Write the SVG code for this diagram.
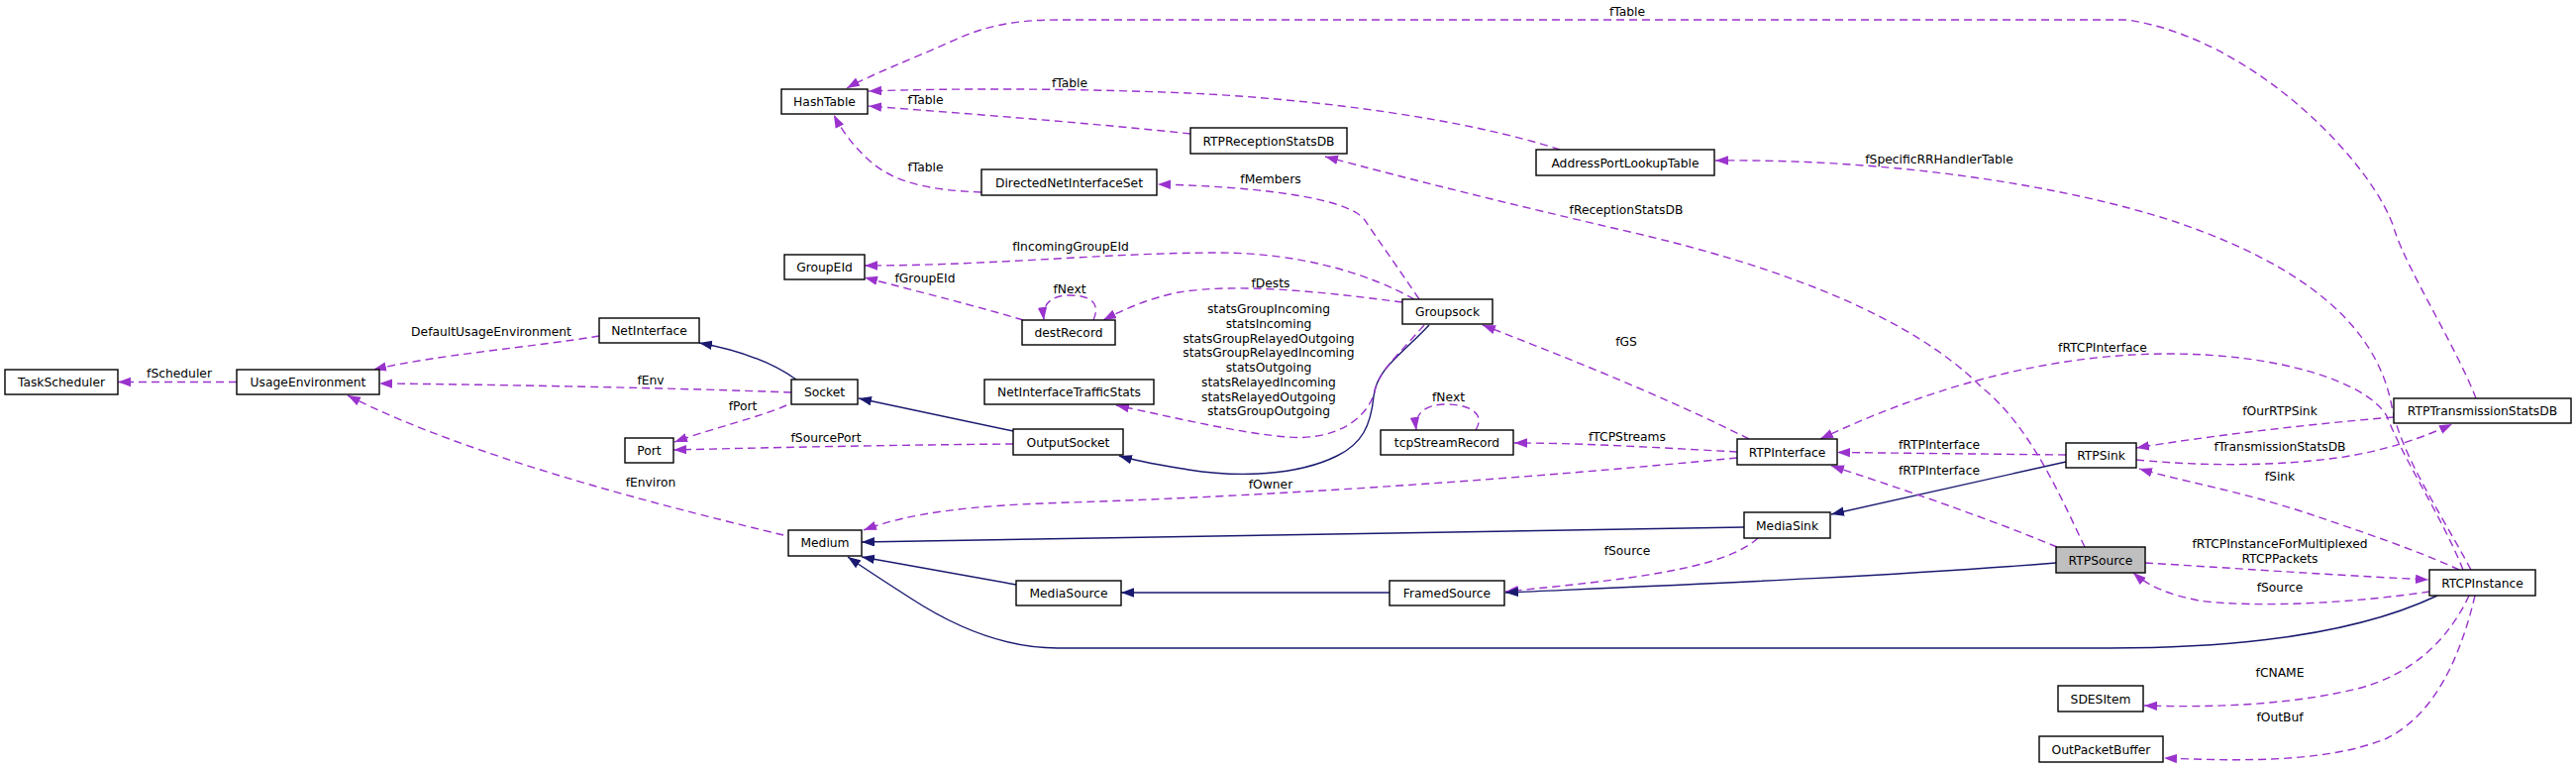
<svg xmlns="http://www.w3.org/2000/svg" width="2601" height="775" viewBox="0 0 2601 775">
<defs>
<style>
.n rect{fill:#fff;stroke:#000;stroke-width:1.4}
.n text,.l{font-family:"DejaVu Sans",sans-serif;font-size:12.3px;fill:#000;text-anchor:middle}
.hl rect{fill:#bfbfbf}
.d{fill:none;stroke:#9a32cd;stroke-width:1.4;stroke-dasharray:8,5;marker-end:url(#ap)}
.s{fill:none;stroke:#191970;stroke-width:1.4;marker-end:url(#ab)}
</style>
<marker id="ap" markerUnits="userSpaceOnUse" markerWidth="14" markerHeight="10" refX="13" refY="4.7" orient="auto"><path d="M0,0 L13,4.7 L0,9.4 z" fill="#9a32cd"/></marker>
<marker id="ab" markerUnits="userSpaceOnUse" markerWidth="14" markerHeight="10" refX="13" refY="4.7" orient="auto"><path d="M0,0 L13,4.7 L0,9.4 z" fill="#191970"/></marker>
</defs>
<rect width="2601" height="775" fill="#fff"/>
<g id="edges">
<path class="d" d="M239,385.5 L119,385.5"/>
<path class="d" d="M605,339 C540,350 440,358 377,373"/>
<path class="s" d="M804,383 C780,366 750,354 706,346"/>
<path class="d" d="M799,396 C700,392 500,388 383,387"/>
<path class="d" d="M794,409 C770,420 720,432 681,446"/>
<path class="d" d="M1023,448 C900,449 760,452 680,454"/>
<path class="d" d="M791,540 C700,518 480,465 351,399"/>
<path class="s" d="M1023,435 L867,402"/>
<path class="s" d="M1443,328 C1415,358 1390,372 1387,400 C1384,430 1375,448 1350,460 C1310,480 1250,482 1200,474 C1170,469 1150,466 1130,460"/>
<path class="d" d="M1438,328 C1410,360 1392,375 1388,395 C1380,425 1345,445 1300,441 C1250,437 1180,420 1127,409"/>
<path class="d" d="M1433,302 C1410,268 1390,240 1378,222 C1360,198 1260,188 1169,186"/>
<path class="d" d="M1428,302 C1380,275 1310,255 1230,255 C1120,255 1000,268 873,268"/>
<path class="d" d="M1416,305 C1340,295 1250,285 1190,295 C1160,301 1135,312 1114,323"/>
<path class="d" d="M1104,323 C1112,305 1100,298 1080,298 C1062,298 1052,306 1054,323"/>
<path class="d" d="M1033,323 C990,310 930,295 873,280"/>
<path class="d" d="M991,194 C940,192 905,185 880,164 C862,148 850,132 842,116"/>
<path class="d" d="M1202,135 C1100,124 980,115 877,107"/>
<path class="d" d="M1575,151 C1480,120 1330,100 1200,94 C1080,89 960,89 877,92"/>
<path class="d" d="M2500,402 C2480,350 2432,275 2418,233 C2400,170 2280,40 2148,20 L1068,20 C1020,20 990,28 960,42 C920,60 880,75 855,89"/>
<path class="d" d="M2495,575 C2460,510 2425,460 2415,410 C2400,330 2330,270 2200,225 C2080,185 1900,160 1732,162"/>
<path class="d" d="M2105,552 C2080,500 2050,430 2000,390 C1930,320 1800,270 1650,235 C1520,205 1420,180 1338,158"/>
<path class="d" d="M1766,443 C1680,400 1580,360 1497,328"/>
<path class="d" d="M1754,456 C1680,452 1600,447 1529,447"/>
<path class="d" d="M1490,434 C1500,418 1485,408 1460,408 C1438,408 1428,418 1430,434"/>
<path class="d" d="M1754,462 C1550,482 1300,500 1080,507 C980,510 920,517 872,535"/>
<path class="s" d="M1761,532 L870,547"/>
<path class="s" d="M1026,590 L870,562"/>
<path class="s" d="M1403,598 L1132,598"/>
<path class="d" d="M1775,543 C1740,575 1640,585 1520,597"/>
<path class="s" d="M2076,568 C1900,582 1700,590 1520,598"/>
<path class="s" d="M2461,601 C2400,630 2300,654 2130,654 L1068,654 C1010,654 960,630 920,604 C895,588 875,575 856,562"/>
<path class="s" d="M2086,466 L1849,519"/>
<path class="d" d="M2086,459 L1855,456.5"/>
<path class="d" d="M2077,552 C2000,520 1910,490 1849,470"/>
<path class="d" d="M2487,575 C2465,520 2430,470 2410,420 C2390,385 2300,357 2190,357 C2080,357 1960,385 1838,443"/>
<path class="d" d="M2417,421 C2330,428 2230,440 2157,452"/>
<path class="d" d="M2157,464 C2230,471 2300,470 2360,462 C2410,455 2450,440 2476,428"/>
<path class="d" d="M2483,575 C2440,555 2380,535 2330,518 C2260,495 2200,485 2160,473"/>
<path class="d" d="M2166,568 C2250,573 2350,580 2452,585"/>
<path class="d" d="M2453,597 C2380,608 2280,614 2220,606 C2190,600 2170,592 2154,578"/>
<path class="d" d="M2493,601 C2475,640 2440,680 2380,695 C2310,712 2230,714 2165,712"/>
<path class="d" d="M2499,601 C2485,660 2460,720 2410,745 C2350,770 2260,768 2185,765"/>
</g>
<g id="edge-labels">
<text class="l" x="181" y="381">fScheduler</text>
<text class="l" x="496" y="339">DefaultUsageEnvironment</text>
<text class="l" x="657" y="387.5">fEnv</text>
<text class="l" x="750" y="414">fPort</text>
<text class="l" x="834" y="446">fSourcePort</text>
<text class="l" x="657" y="491">fEnviron</text>
<text class="l" x="1283" y="184.5">fMembers</text>
<text class="l" x="1081" y="252.5">fIncomingGroupEId</text>
<text class="l" x="1283" y="289.5">fDests</text>
<text class="l" x="1080" y="295.5">fNext</text>
<text class="l" x="934" y="284.5">fGroupEId</text>
<text class="l" x="934.5" y="172.5">fTable</text>
<text class="l" x="934.5" y="104.5">fTable</text>
<text class="l" x="1080" y="87.5">fTable</text>
<text class="l" x="1643" y="16">fTable</text>
<text class="l" x="1958" y="164.5">fSpecificRRHandlerTable</text>
<text class="l" x="1642" y="216">fReceptionStatsDB</text>
<text class="l" x="1642" y="348.5">fGS</text>
<text class="l" x="1281" y="316">statsGroupIncoming</text>
<text class="l" x="1281" y="330.75">statsIncoming</text>
<text class="l" x="1281" y="345.5">statsGroupRelayedOutgoing</text>
<text class="l" x="1281" y="360.25">statsGroupRelayedIncoming</text>
<text class="l" x="1281" y="375">statsOutgoing</text>
<text class="l" x="1281" y="389.75">statsRelayedIncoming</text>
<text class="l" x="1281" y="404.5">statsRelayedOutgoing</text>
<text class="l" x="1281" y="419.25">statsGroupOutgoing</text>
<text class="l" x="1283" y="492.5">fOwner</text>
<text class="l" x="1643" y="444.5">fTCPStreams</text>
<text class="l" x="1462.5" y="405">fNext</text>
<text class="l" x="1643" y="559.5">fSource</text>
<text class="l" x="1958" y="452.5">fRTPInterface</text>
<text class="l" x="1958" y="478.5">fRTPInterface</text>
<text class="l" x="2123" y="354.5">fRTCPInterface</text>
<text class="l" x="2302" y="418.5">fOurRTPSink</text>
<text class="l" x="2302" y="454.5">fTransmissionStatsDB</text>
<text class="l" x="2302" y="484.5">fSink</text>
<text class="l" x="2302" y="552.5">fRTCPInstanceForMultiplexed</text>
<text class="l" x="2302" y="567.5">RTCPPackets</text>
<text class="l" x="2302" y="596.5">fSource</text>
<text class="l" x="2302" y="682.5">fCNAME</text>
<text class="l" x="2302" y="727.5">fOutBuf</text>
</g>
<g id="TaskScheduler" class="n"><rect x="5" y="373" width="114" height="25"/><text x="62" y="390">TaskScheduler</text></g>
<g id="UsageEnvironment" class="n"><rect x="239" y="373" width="144" height="25"/><text x="311" y="390">UsageEnvironment</text></g>
<g id="NetInterface" class="n"><rect x="605" y="321" width="101" height="25"/><text x="655.5" y="338">NetInterface</text></g>
<g id="Socket" class="n"><rect x="799" y="383" width="67" height="25"/><text x="832.5" y="400">Socket</text></g>
<g id="Port" class="n"><rect x="631" y="442" width="49" height="25"/><text x="655.5" y="459">Port</text></g>
<g id="Medium" class="n"><rect x="796" y="535" width="74" height="26"/><text x="833" y="552">Medium</text></g>
<g id="HashTable" class="n"><rect x="789" y="90" width="87" height="25"/><text x="832.5" y="107">HashTable</text></g>
<g id="GroupEId" class="n"><rect x="792" y="257" width="81" height="25"/><text x="832.5" y="274">GroupEId</text></g>
<g id="DirectedNetInterfaceSet" class="n"><rect x="991" y="171" width="177" height="26"/><text x="1079.5" y="188.5">DirectedNetInterfaceSet</text></g>
<g id="RTPReceptionStatsDB" class="n"><rect x="1202" y="129" width="158" height="26"/><text x="1281" y="146.5">RTPReceptionStatsDB</text></g>
<g id="AddressPortLookupTable" class="n"><rect x="1551" y="151" width="180" height="26"/><text x="1641" y="168.5">AddressPortLookupTable</text></g>
<g id="destRecord" class="n"><rect x="1032" y="323" width="94" height="25"/><text x="1079" y="340">destRecord</text></g>
<g id="Groupsock" class="n"><rect x="1416" y="302" width="91" height="25"/><text x="1461.5" y="319">Groupsock</text></g>
<g id="NetInterfaceTrafficStats" class="n"><rect x="994" y="383" width="171" height="25"/><text x="1079.5" y="400">NetInterfaceTrafficStats</text></g>
<g id="OutputSocket" class="n"><rect x="1023" y="433" width="111" height="26"/><text x="1078.5" y="450.5">OutputSocket</text></g>
<g id="tcpStreamRecord" class="n"><rect x="1394" y="434" width="134" height="25"/><text x="1461" y="451">tcpStreamRecord</text></g>
<g id="MediaSource" class="n"><rect x="1026" y="586" width="106" height="25"/><text x="1079" y="603">MediaSource</text></g>
<g id="FramedSource" class="n"><rect x="1403" y="586" width="116" height="25"/><text x="1461" y="603">FramedSource</text></g>
<g id="RTPInterface" class="n"><rect x="1754" y="443" width="101" height="26"/><text x="1804.5" y="460.5">RTPInterface</text></g>
<g id="MediaSink" class="n"><rect x="1761" y="517" width="87" height="26"/><text x="1804.5" y="534.5">MediaSink</text></g>
<g id="RTPSink" class="n"><rect x="2086" y="447" width="71" height="25"/><text x="2121.5" y="464">RTPSink</text></g>
<g id="RTPSource" class="n hl"><rect x="2076" y="552" width="90" height="26"/><text x="2121" y="569.5">RTPSource</text></g>
<g id="RTPTransmissionStatsDB" class="n"><rect x="2417" y="402" width="179" height="25"/><text x="2506.5" y="419">RTPTransmissionStatsDB</text></g>
<g id="RTCPInstance" class="n"><rect x="2453" y="575" width="107" height="26"/><text x="2506.5" y="592.5">RTCPInstance</text></g>
<g id="SDESItem" class="n"><rect x="2078" y="692" width="86" height="26"/><text x="2121" y="709.5">SDESItem</text></g>
<g id="OutPacketBuffer" class="n"><rect x="2059" y="743" width="125" height="26"/><text x="2121.5" y="760.5">OutPacketBuffer</text></g>
</svg>
